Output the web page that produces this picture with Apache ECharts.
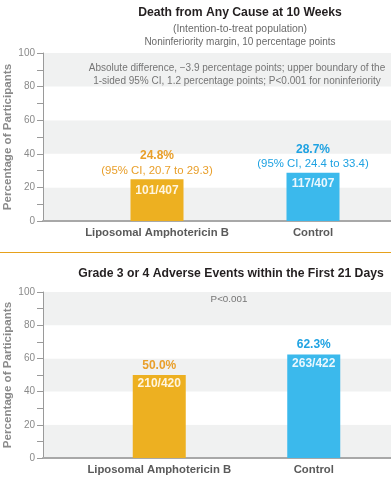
<!DOCTYPE html>
<html>
<head>
<meta charset="utf-8">
<script src="https://cdn.jsdelivr.net/npm/echarts@6/dist/echarts.min.js"></script>
<style>
html,body{margin:0;padding:0;background:#fff;}
#c{width:391px;height:479px;}
</style>
</head>
<body>
<div id="c"></div>
<script>
// ---- data ----
const categories = ['Liposomal Amphotericin B', 'Control'];
const deathPct = [24.8, 28.7];
const deathCount = ['101/407', '117/407'];
const deathCI = ['20.7 to 29.3', '24.4 to 33.4'];
const aePct = [50.0, 62.3];
const aeCount = ['210/420', '263/422'];
const yMin = 0, yMax = 100, yStep = 20;

// ---- styles ----
const barColors = ['#edb021', '#3bb9ec'];
const textColors = ['#e99f2a', '#1ea2e2'];
const countColors = ['#fff5df', '#eaf7fe'];
const FONT = 'Liberation Sans, Arial, sans-serif';

const chart = echarts.init(document.getElementById('c'), null, {renderer: 'canvas'});

function bgYAxis(gi) {
  return {
    type: 'value', gridIndex: gi, min: yMin, max: yMax, interval: yStep,
    axisLine: {show: true, lineStyle: {color: '#9a9a9a', width: 1}},
    axisTick: {show: true, inside: false, length: 6, lineStyle: {color: '#9a9a9a'}},
    minorTick: {show: true, splitNumber: 2, length: 6, lineStyle: {color: '#9a9a9a'}},
    axisLabel: {color: '#8a8a8a', fontSize: 10, margin: 8, fontFamily: FONT},
    splitLine: {show: false},
    splitArea: {show: true, areaStyle: {color: ['#f0f1f1', '#ffffff']}}
  };
}
function hidYAxis(gi) {
  return {type: 'value', gridIndex: gi, min: yMin, max: yMax, interval: yStep, show: false,
    splitLine: {show: false}};
}
function bgXAxis(gi) {
  return {type: 'category', gridIndex: gi, data: [''],
    axisLine: {show: true, lineStyle: {color: '#a8a8a8', width: 2}},
    axisTick: {show: false}, axisLabel: {show: false}};
}
function catXAxis(gi) {
  return {type: 'category', gridIndex: gi, data: categories,
    axisLine: {show: false}, axisTick: {show: false},
    axisLabel: {interval: 0, color: '#5a5a5a', fontSize: 11.3, fontWeight: 'bold', margin: 6, fontFamily: FONT}};
}

function barSeries(xi, vals, counts, dist) {
  return {
    type: 'bar', xAxisIndex: xi, yAxisIndex: xi, barWidth: 53,
    data: vals.map((v, i) => ({value: v, itemStyle: {color: barColors[i]},
      label: {color: countColors[i]}})),
    label: {show: true, position: 'insideTop', distance: dist, fontSize: 12, fontWeight: 'bold',
      fontFamily: FONT, formatter: p => counts[p.dataIndex]},
    silent: true, animation: false
  };
}
function topLabelSeries(xi, vals, fmt, dist) {
  return {
    type: 'bar', xAxisIndex: xi, yAxisIndex: xi, barWidth: 53, barGap: '-100%',
    data: vals.map((v, i) => ({value: v, label: {
      rich: {
        a: {color: textColors[i], fontWeight: 'bold', fontSize: 12, fontFamily: FONT, lineHeight: 15},
        b: {color: textColors[i], fontSize: 11.4, fontFamily: FONT, lineHeight: 15}
      }}})),
    itemStyle: {color: 'rgba(0,0,0,0)'},
    label: {show: true, position: 'top', distance: dist, formatter: fmt},
    silent: true, animation: false
  };
}

function txt(x, y, text, font, fill, extra) {
  return Object.assign({type: 'text', x: x, y: y, z: 100,
    style: {text: text, font: font, fill: fill, textAlign: 'center', textVerticalAlign: 'middle'}}, extra || {});
}

const option = {
  animation: false,
  grid: [
    {left: 43, right: 0, top: 53, height: 168},
    {left: 79, width: 320, top: 53, height: 168},
    {left: 43, right: 0, top: 292, height: 166},
    {left: 82, width: 312, top: 292, height: 166}
  ],
  xAxis: [bgXAxis(0), catXAxis(1), bgXAxis(2), catXAxis(3)],
  yAxis: [bgYAxis(0), hidYAxis(1), bgYAxis(2), hidYAxis(3)],
  series: [
    barSeries(1, deathPct, deathCount, 5),
    topLabelSeries(1, deathPct, p => '{a|' + deathPct[p.dataIndex].toFixed(1) + '%}\n{b|(95% CI, ' + deathCI[p.dataIndex] + ')}', 1),
    barSeries(3, aePct, aeCount, 3),
    topLabelSeries(3, aePct, p => '{a|' + aePct[p.dataIndex].toFixed(1) + '%}', 2)
  ],
  graphic: [
    txt(240, 13, 'Death from Any Cause at 10 Weeks', 'bold 12.2px ' + FONT, '#231f20'),
    txt(240, 29, '(Intention-to-treat population)', '10.4px ' + FONT, '#6a6a6a'),
    txt(240, 42, 'Noninferiority margin, 10 percentage points', '10px ' + FONT, '#6a6a6a'),
    txt(237, 68, 'Absolute difference, \u22123.9 percentage points; upper boundary of the', '10px ' + FONT, '#757575'),
    txt(237, 81, '1-sided 95% CI, 1.2 percentage points; P<0.001 for noninferiority', '10px ' + FONT, '#757575'),
    txt(8, 137, 'Percentage of Participants', 'bold 11.6px ' + FONT, '#8a8a8a', {rotation: Math.PI / 2}),
    {type: 'line', z: 100, shape: {x1: 0, y1: 252.5, x2: 391, y2: 252.5}, style: {stroke: '#e6a11c', lineWidth: 1}},
    txt(231, 274, 'Grade 3 or 4 Adverse Events within the First 21 Days', 'bold 12.2px ' + FONT, '#231f20'),
    txt(229, 299, 'P<0.001', '9.8px ' + FONT, '#757575'),
    txt(8, 375, 'Percentage of Participants', 'bold 11.6px ' + FONT, '#8a8a8a', {rotation: Math.PI / 2})
  ]
};
chart.setOption(option);
</script>
</body>
</html>
